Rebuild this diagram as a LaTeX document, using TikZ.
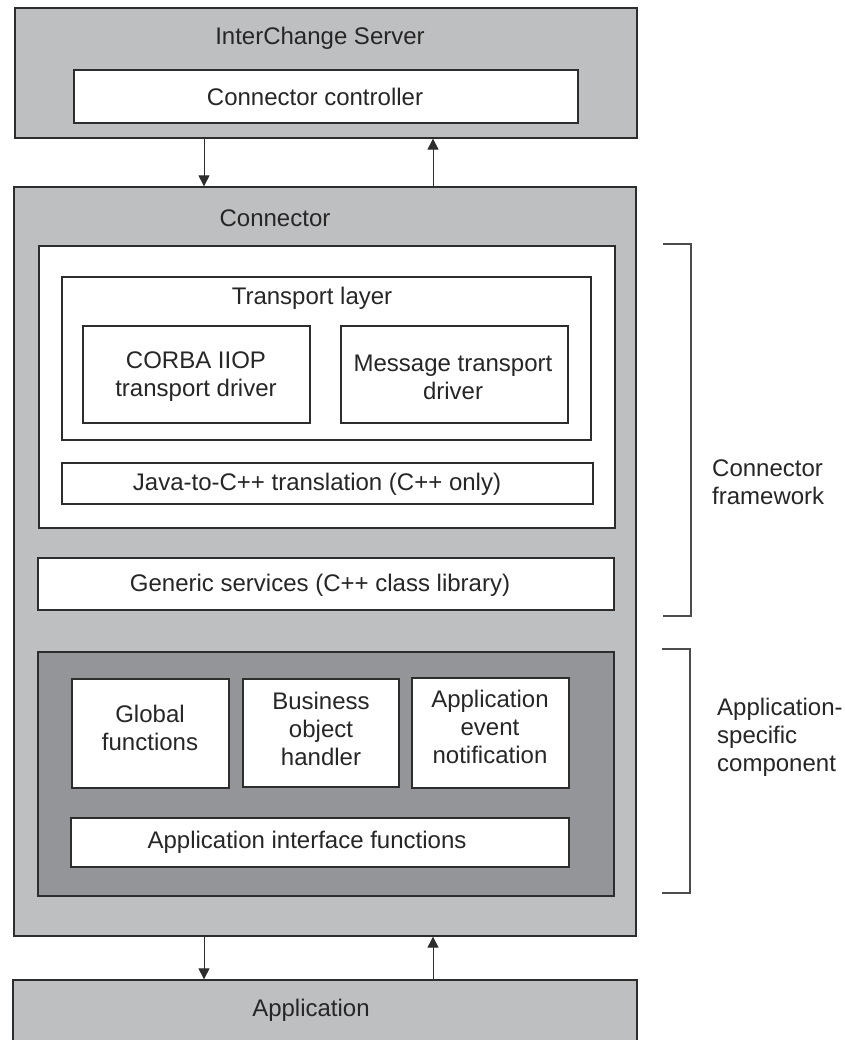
\documentclass[tikz,border=0pt]{standalone}
\usepackage{fontspec}
\setmainfont{Liberation Sans}
\usetikzlibrary{arrows.meta}
\definecolor{lgray}{RGB}{190,191,193}
\definecolor{dgray}{RGB}{147,149,152}
\definecolor{linec}{RGB}{45,45,45}
\tikzset{
  box/.style={draw=linec, line width=1.3pt, rectangle, inner sep=0pt},
  lbl/.style={font=\fontsize{24}{28}\selectfont, align=center, inner sep=0pt, text=black!85},
  arr/.style={draw=linec, line width=1pt, -{Triangle[length=11pt,width=11pt]}},
  brk/.style={draw=black!70, line width=1.2pt}
}
\begin{document}
\begin{tikzpicture}[x=1pt,y=-1pt]
\clip (0,0) rectangle (844,1040);
\fill[white] (0,0) rectangle (844,1040);
% InterChange Server
\node[box, fill=lgray, minimum width=622pt, minimum height=130pt] (server) at (326,73) {};
\node[lbl] (serverlbl) at (320,38) {InterChange Server};
\node[box, fill=white, minimum width=504pt, minimum height=53pt] (ctrl) at (326,96.5) {};
\node[lbl] (ctrllbl) at (315,97) {Connector controller};
% Connector
\node[box, fill=lgray, minimum width=622pt, minimum height=749pt] (conn) at (325,561.5) {};
\node[lbl] (connlbl) at (275,218) {Connector};
\node[box, fill=white, minimum width=576pt, minimum height=282pt] (fw) at (327,387) {};
\node[box, fill=white, minimum width=529pt, minimum height=163pt] (tl) at (326.5,358.5) {};
\node[lbl] (tllbl) at (312,298) {Transport layer};
\node[box, fill=white, minimum width=227pt, minimum height=97pt] (corba) at (196.5,374.5) {};
\node[lbl] (corbalbl) at (196,377) {CORBA IIOP\\transport driver};
\node[box, fill=white, minimum width=227pt, minimum height=97pt] (msg) at (454.5,374.5) {};
\node[lbl] (msglbl) at (453,377) {Message transport\\driver};
\node[box, fill=white, minimum width=531pt, minimum height=41pt] (java) at (327.5,483.5) {};
\node[lbl] (javalbl) at (317,484) {Java-to-C++ translation (C++ only)};
\node[box, fill=white, minimum width=576pt, minimum height=52pt] (gen) at (326,584) {};
\node[lbl] (genlbl) at (320,585) {Generic services (C++ class library)};
% Application-specific component
\node[box, fill=dgray, minimum width=576pt, minimum height=244pt] (asc) at (326,774) {};
\node[box, fill=white, minimum width=157pt, minimum height=109pt] (glob) at (150.5,733.5) {};
\node[lbl] (globlbl) at (150,728) {Global\\functions};
\node[box, fill=white, minimum width=156pt, minimum height=108pt] (bo) at (321,733) {};
\node[lbl] (bolbl) at (321,729) {Business\\object\\handler};
\node[box, fill=white, minimum width=157pt, minimum height=110pt] (aen) at (490.5,733) {};
\node[lbl] (aenlbl) at (490,727) {Application\\event\\notification};
\node[box, fill=white, minimum width=498pt, minimum height=49pt] (aif) at (320,842.5) {};
\node[lbl] (aiflbl) at (307,842) {Application interface functions};
% Application
\node[box, fill=lgray, minimum width=624pt, minimum height=80pt] (app) at (325,1020) {};
\node[lbl] (applbl) at (311,1010) {Application};
% Arrows
\draw[arr] (server.south -| 204,0) -- (conn.north -| 204,0);
\draw[arr] (conn.north -| 433,0) -- (server.south -| 433,0);
\draw[arr] (conn.south -| 204,0) -- (app.north -| 204,0);
\draw[arr] (app.north -| 433,0) -- (conn.south -| 433,0);
% Brackets
\coordinate (b1t) at (663,244);
\coordinate (b1b) at (663,616);
\draw[brk] (b1t) -- (691,244) -- (691,616) -- (b1b);
\coordinate (b2t) at (662,649);
\coordinate (b2b) at (662,893);
\draw[brk] (b2t) -- (690,649) -- (690,893) -- (b2b);
\node[lbl, align=left, anchor=west] (cfw) at (712,482) {Connector\\framework};
\node[lbl, align=left, anchor=west] (ascl) at (717,737) {Application-\\specific\\component};
\end{tikzpicture}
\end{document}
